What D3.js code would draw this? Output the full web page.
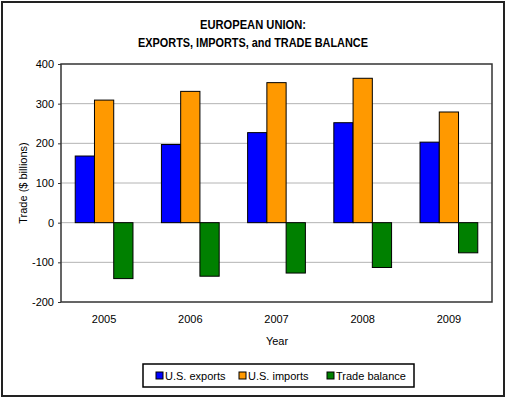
<!DOCTYPE html>
<html lang="en">
<head>
    <meta charset="UTF-8">
    <title>European Union trade</title>
    <style>
        body { margin: 0; background: #fff; }
        svg { display: block; font-family: "Liberation Sans", Arial, sans-serif; }
    </style>
</head>
<body>
    <div id="graphic"></div>

    <script src="https://cdn.jsdelivr.net/npm/d3@7"></script>
    <script>
        var years = ['2005', '2006', '2007', '2008', '2009'];
        var seriesNames = ['U.S. exports', 'U.S. imports', 'Trade balance'];
        var exportsData = [168, 197, 227, 252, 203];
        var importsData = [309, 331, 353, 364, 279];
        var balanceData = [-141, -135, -127, -113, -76];
        var yTicks = [-200, -100, 0, 100, 200, 300, 400];
        var colors = ['#0000ff', '#ff9900', '#008000'];

        var width = 506;
        var height = 398;
        var plot = { left: 61, top: 64, right: 492, bottom: 302 };

        var svg = d3.select('#graphic')
            .append('svg')
            .attr('width', width)
            .attr('height', height);

        // outer frame
        svg.append('rect')
            .attr('x', 2).attr('y', 2)
            .attr('width', 502).attr('height', 394)
            .attr('fill', '#fff')
            .attr('stroke', '#222')
            .attr('stroke-width', 2);

        // title (source font is narrower, squeeze a bit)
        svg.append('text')
            .attr('x', 253).attr('y', 29)
            .attr('text-anchor', 'middle')
            .attr('font-size', 12).attr('font-weight', 'bold')
            .attr('textLength', 106).attr('lengthAdjust', 'spacingAndGlyphs')
            .text('EUROPEAN UNION:');
        svg.append('text')
            .attr('x', 253).attr('y', 47)
            .attr('text-anchor', 'middle')
            .attr('font-size', 12).attr('font-weight', 'bold')
            .attr('textLength', 230).attr('lengthAdjust', 'spacingAndGlyphs')
            .text('EXPORTS, IMPORTS, and TRADE BALANCE');

        var x = d3.scaleBand()
            .domain(years)
            .range([plot.left, plot.right])
            .paddingInner(0.33)
            .paddingOuter(0.165);

        var xs = d3.scaleBand()
            .domain(seriesNames)
            .range([0, x.bandwidth()]);

        var y = d3.scaleLinear()
            .domain([-200, 400])
            .range([plot.bottom, plot.top]);

        // gridlines
        svg.selectAll('.grid')
            .data(yTicks.filter(function(d) { return d !== 400 && d !== -200; }))
            .join('line')
            .attr('class', 'grid')
            .attr('x1', plot.left).attr('x2', plot.right)
            .attr('y1', function(d) { return y(d); })
            .attr('y2', function(d) { return y(d); })
            .attr('stroke', '#b4b4b4')
            .attr('stroke-width', 1);

        var rows = years.map(function(yr, i) {
            return { year: yr, values: [exportsData[i], importsData[i], balanceData[i]] };
        });

        var groups = svg.selectAll('.year')
            .data(rows)
            .join('g')
            .attr('class', 'year')
            .attr('transform', function(d) { return 'translate(' + x(d.year) + ',0)'; });

        groups.selectAll('rect')
            .data(function(d) {
                return d.values.map(function(v, i) { return { name: seriesNames[i], value: v, i: i }; });
            })
            .join('rect')
            .attr('x', function(d) { return xs(d.name); })
            .attr('width', xs.bandwidth())
            .attr('y', function(d) { return y(Math.max(0, d.value)); })
            .attr('height', function(d) { return Math.abs(y(d.value) - y(0)); })
            .attr('fill', function(d) { return colors[d.i]; })
            .attr('stroke', '#000')
            .attr('stroke-width', 1);

        // plot border
        svg.append('rect')
            .attr('x', plot.left).attr('y', plot.top)
            .attr('width', plot.right - plot.left)
            .attr('height', plot.bottom - plot.top)
            .attr('fill', 'none')
            .attr('stroke', '#333')
            .attr('stroke-width', 1.5);

        // y axis
        var yAxis = svg.append('g')
            .attr('transform', 'translate(' + plot.left + ',0)')
            .call(d3.axisLeft(y).tickValues(yTicks).tickSize(3).tickPadding(4)
                .tickFormat(function(d) { return String(d); }));
        yAxis.select('.domain').remove();
        yAxis.selectAll('line').attr('stroke', '#333');
        yAxis.selectAll('text')
            .attr('font-size', 11)
            .attr('font-family', '"Liberation Sans", Arial, sans-serif')
            .attr('fill', '#000');

        // x labels
        var xAxis = svg.append('g')
            .attr('transform', 'translate(0,' + plot.bottom + ')')
            .call(d3.axisBottom(x).tickSize(0).tickPadding(13));
        xAxis.select('.domain').remove();
        xAxis.selectAll('text')
            .attr('font-size', 11)
            .attr('font-family', '"Liberation Sans", Arial, sans-serif')
            .attr('fill', '#000');

        svg.append('text')
            .attr('x', 277).attr('y', 345)
            .attr('text-anchor', 'middle')
            .attr('font-size', 11)
            .text('Year');

        svg.append('text')
            .attr('transform', 'translate(27,183) rotate(-90)')
            .attr('text-anchor', 'middle')
            .attr('font-size', 11)
            .text('Trade ($ billions)');

        // legend
        var legend = svg.append('g').attr('transform', 'translate(143,364)');
        legend.append('rect')
            .attr('width', 271).attr('height', 23)
            .attr('fill', '#fff')
            .attr('stroke', '#000')
            .attr('stroke-width', 1.5);
        var legendX = [13, 96, 184];
        var items = legend.selectAll('.item')
            .data(seriesNames)
            .join('g')
            .attr('class', 'item')
            .attr('transform', function(d, i) { return 'translate(' + legendX[i] + ',0)'; });
        items.append('rect')
            .attr('x', 0).attr('y', 8)
            .attr('width', 7).attr('height', 7)
            .attr('fill', function(d, i) { return colors[i]; })
            .attr('stroke', '#000')
            .attr('stroke-width', 1);
        items.append('text')
            .attr('x', 9).attr('y', 16)
            .attr('font-size', 11)
            .text(function(d) { return d; });
    </script>
</body>
</html>
